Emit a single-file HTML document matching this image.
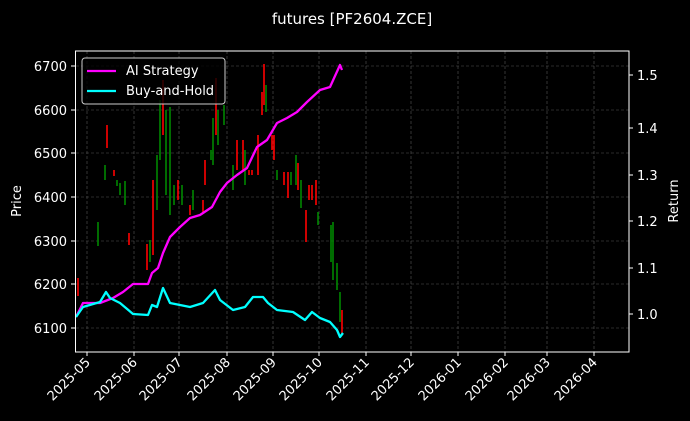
<!DOCTYPE html>
<html><head><meta charset="utf-8"><style>
html,body{margin:0;padding:0;background:#000;}
svg{display:block;font-family:"DejaVu Sans","Liberation Sans",sans-serif;}
</style></head><body>
<svg width="690" height="421" viewBox="0 0 690 421" xmlns="http://www.w3.org/2000/svg">
<rect width="690" height="421" fill="#000"/>
<text x="352" y="24" fill="#fff" font-size="15" text-anchor="middle">futures [PF2604.ZCE]</text>
<g stroke="#555" stroke-width="0.6" stroke-dasharray="3,2">
<line x1="87" y1="51" x2="87" y2="352"/><line x1="134" y1="51" x2="134" y2="352"/><line x1="179" y1="51" x2="179" y2="352"/><line x1="227" y1="51" x2="227" y2="352"/><line x1="273" y1="51" x2="273" y2="352"/><line x1="319" y1="51" x2="319" y2="352"/><line x1="366" y1="51" x2="366" y2="352"/><line x1="411" y1="51" x2="411" y2="352"/><line x1="458" y1="51" x2="458" y2="352"/><line x1="505" y1="51" x2="505" y2="352"/><line x1="547" y1="51" x2="547" y2="352"/><line x1="594" y1="51" x2="594" y2="352"/>
<line x1="76" y1="66" x2="629" y2="66"/><line x1="76" y1="110" x2="629" y2="110"/><line x1="76" y1="153" x2="629" y2="153"/><line x1="76" y1="197" x2="629" y2="197"/><line x1="76" y1="241" x2="629" y2="241"/><line x1="76" y1="284" x2="629" y2="284"/><line x1="76" y1="328" x2="629" y2="328"/>
</g>
<g stroke-width="1.6">
<line x1="78" y1="278" x2="78" y2="296" stroke="#f00"/>
<line x1="98" y1="222" x2="98" y2="246" stroke="#080"/>
<line x1="105" y1="165" x2="105" y2="180" stroke="#080"/>
<line x1="107" y1="125" x2="107" y2="148" stroke="#f00"/>
<line x1="114" y1="170" x2="114" y2="176" stroke="#f00"/>
<line x1="117" y1="180" x2="117" y2="186" stroke="#080"/>
<line x1="120" y1="183" x2="120" y2="195" stroke="#080"/>
<line x1="125" y1="181" x2="125" y2="205" stroke="#080"/>
<line x1="129" y1="233" x2="129" y2="245" stroke="#f00"/>
<line x1="147" y1="244" x2="147" y2="270" stroke="#f00"/>
<line x1="150" y1="240" x2="150" y2="262" stroke="#080"/>
<line x1="153" y1="180" x2="153" y2="255" stroke="#f00"/>
<line x1="157" y1="155" x2="157" y2="210" stroke="#080"/>
<line x1="160" y1="100" x2="160" y2="160" stroke="#080"/>
<line x1="163" y1="80" x2="163" y2="135" stroke="#f00"/>
<line x1="166" y1="110" x2="166" y2="195" stroke="#080"/>
<line x1="170" y1="107" x2="170" y2="215" stroke="#080"/>
<line x1="174" y1="185" x2="174" y2="205" stroke="#080"/>
<line x1="178" y1="180" x2="178" y2="200" stroke="#f00"/>
<line x1="182" y1="185" x2="182" y2="205" stroke="#080"/>
<line x1="190" y1="205" x2="190" y2="215" stroke="#f00"/>
<line x1="193" y1="190" x2="193" y2="210" stroke="#080"/>
<line x1="203" y1="200" x2="203" y2="212" stroke="#f00"/>
<line x1="205" y1="160" x2="205" y2="185" stroke="#f00"/>
<line x1="211" y1="150" x2="211" y2="160" stroke="#080"/>
<line x1="213" y1="118" x2="213" y2="165" stroke="#080"/>
<line x1="216" y1="78" x2="216" y2="135" stroke="#f00"/>
<line x1="218" y1="110" x2="218" y2="145" stroke="#080"/>
<line x1="224" y1="105" x2="224" y2="125" stroke="#080"/>
<line x1="233" y1="165" x2="233" y2="190" stroke="#080"/>
<line x1="237" y1="140" x2="237" y2="170" stroke="#f00"/>
<line x1="243" y1="140" x2="243" y2="170" stroke="#f00"/>
<line x1="245" y1="150" x2="245" y2="185" stroke="#080"/>
<line x1="249" y1="170" x2="249" y2="175" stroke="#f00"/>
<line x1="252" y1="170" x2="252" y2="175" stroke="#f00"/>
<line x1="258" y1="135" x2="258" y2="175" stroke="#f00"/>
<line x1="262" y1="92" x2="262" y2="115" stroke="#f00"/>
<line x1="264" y1="64" x2="264" y2="105" stroke="#f00"/>
<line x1="266" y1="85" x2="266" y2="112" stroke="#080"/>
<line x1="272" y1="135" x2="272" y2="150" stroke="#f00"/>
<line x1="274" y1="135" x2="274" y2="160" stroke="#f00"/>
<line x1="277" y1="170" x2="277" y2="180" stroke="#080"/>
<line x1="284" y1="172" x2="284" y2="185" stroke="#f00"/>
<line x1="288" y1="172" x2="288" y2="198" stroke="#f00"/>
<line x1="291" y1="172" x2="291" y2="185" stroke="#080"/>
<line x1="296" y1="155" x2="296" y2="185" stroke="#080"/>
<line x1="298" y1="163" x2="298" y2="190" stroke="#f00"/>
<line x1="301" y1="180" x2="301" y2="208" stroke="#080"/>
<line x1="306" y1="210" x2="306" y2="242" stroke="#f00"/>
<line x1="309" y1="185" x2="309" y2="200" stroke="#f00"/>
<line x1="312" y1="185" x2="312" y2="200" stroke="#f00"/>
<line x1="316" y1="180" x2="316" y2="205" stroke="#f00"/>
<line x1="318" y1="212" x2="318" y2="225" stroke="#080"/>
<line x1="331" y1="225" x2="331" y2="262" stroke="#080"/>
<line x1="333" y1="222" x2="333" y2="280" stroke="#080"/>
<line x1="337" y1="263" x2="337" y2="290" stroke="#080"/>
<line x1="340" y1="292" x2="340" y2="322" stroke="#080"/>
<line x1="342" y1="310" x2="342" y2="335" stroke="#f00"/>
</g>
<polyline fill="none" stroke="#f0f" stroke-width="2.3" stroke-linejoin="round" points="76,317 83,303 100,303 113,298 123,292 133,284 148,284 152,273 158,268 163,253 170,237 180,227 190,218 200,215 212,207 220,192 227,183 237,175 247,168 257,147 267,140 277,123 287,118 297,112 307,102 320,90 330,87 340,65 342,70"/>
<polyline fill="none" stroke="#0ff" stroke-width="2.3" stroke-linejoin="round" points="76,317 83,307 100,302 106,292 110,298 120,303 133,314 148,315 152,305 157,307 163,288 170,303 180,305 190,307 203,303 215,290 220,300 233,310 245,307 253,297 263,297 268,303 277,310 293,312 305,320 312,312 320,318 330,322 337,330 340,337 343,333"/>
<rect x="75.5" y="51" width="553.5" height="301" fill="none" stroke="#fff" stroke-width="1"/>
<g fill="#fff" font-size="13" text-anchor="end">
<text x="67" y="71">6700</text><text x="67" y="115">6600</text><text x="67" y="158">6500</text><text x="67" y="202">6400</text><text x="67" y="246">6300</text><text x="67" y="289">6200</text><text x="67" y="333">6100</text>
</g>
<g stroke="#fff"><line x1="71" y1="66" x2="75" y2="66"/><line x1="71" y1="110" x2="75" y2="110"/><line x1="71" y1="153" x2="75" y2="153"/><line x1="71" y1="197" x2="75" y2="197"/><line x1="71" y1="241" x2="75" y2="241"/><line x1="71" y1="284" x2="75" y2="284"/><line x1="71" y1="328" x2="75" y2="328"/>
<line x1="629" y1="75" x2="633" y2="75"/><line x1="629" y1="128" x2="633" y2="128"/><line x1="629" y1="175" x2="633" y2="175"/><line x1="629" y1="221" x2="633" y2="221"/><line x1="629" y1="268" x2="633" y2="268"/><line x1="629" y1="314" x2="633" y2="314"/></g>
<g fill="#fff" font-size="13">
<text x="637" y="80">1.5</text><text x="637" y="133">1.4</text><text x="637" y="180">1.3</text><text x="637" y="226">1.2</text><text x="637" y="273">1.1</text><text x="637" y="319">1.0</text>
</g>
<text transform="translate(21,201) rotate(-90)" fill="#fff" font-size="13" text-anchor="middle">Price</text>
<text transform="translate(678,201) rotate(-90)" fill="#fff" font-size="13" text-anchor="middle">Return</text>
<g stroke="#fff"><line x1="87" y1="352" x2="87" y2="356"/><line x1="134" y1="352" x2="134" y2="356"/><line x1="179" y1="352" x2="179" y2="356"/><line x1="227" y1="352" x2="227" y2="356"/><line x1="273" y1="352" x2="273" y2="356"/><line x1="319" y1="352" x2="319" y2="356"/><line x1="366" y1="352" x2="366" y2="356"/><line x1="411" y1="352" x2="411" y2="356"/><line x1="458" y1="352" x2="458" y2="356"/><line x1="505" y1="352" x2="505" y2="356"/><line x1="547" y1="352" x2="547" y2="356"/><line x1="594" y1="352" x2="594" y2="356"/></g>
<g fill="#fff" font-size="13" text-anchor="end">
<text transform="translate(91,363) rotate(-45)">2025-05</text>
<text transform="translate(138,363) rotate(-45)">2025-06</text>
<text transform="translate(183,363) rotate(-45)">2025-07</text>
<text transform="translate(231,363) rotate(-45)">2025-08</text>
<text transform="translate(277,363) rotate(-45)">2025-09</text>
<text transform="translate(323,363) rotate(-45)">2025-10</text>
<text transform="translate(370,363) rotate(-45)">2025-11</text>
<text transform="translate(415,363) rotate(-45)">2025-12</text>
<text transform="translate(462,363) rotate(-45)">2026-01</text>
<text transform="translate(509,363) rotate(-45)">2026-02</text>
<text transform="translate(551,363) rotate(-45)">2026-03</text>
<text transform="translate(598,363) rotate(-45)">2026-04</text>
</g>
<rect x="82" y="58" width="143" height="46" rx="3" fill="#000" fill-opacity="0.8" stroke="#ccc" stroke-width="1"/>
<line x1="87" y1="71" x2="116" y2="71" stroke="#f0f" stroke-width="2.3"/>
<line x1="87" y1="91" x2="116" y2="91" stroke="#0ff" stroke-width="2.3"/>
<text x="126" y="75" fill="#fff" font-size="13">AI Strategy</text>
<text x="126" y="95" fill="#fff" font-size="13">Buy-and-Hold</text>
</svg>
</body></html>
